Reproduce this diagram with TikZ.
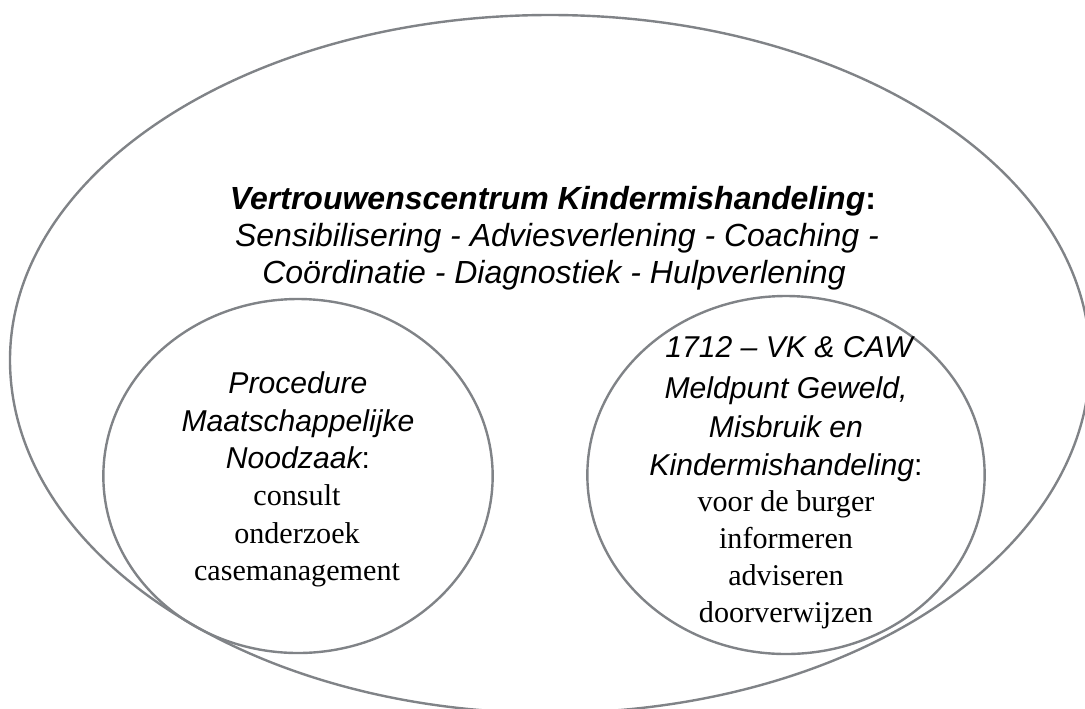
\documentclass[tikz,border=0pt]{standalone}
\usepackage{fontspec}
\setmainfont{Liberation Serif}
\setsansfont{Liberation Sans}
\usetikzlibrary{shapes.geometric}
\definecolor{ringgray}{RGB}{128,131,135}
\begin{document}
\begin{tikzpicture}[x=0.75pt,y=-0.75pt,
  ring/.style={draw=ringgray,line width=1.8pt},
  subring/.style={ring,ellipse,inner sep=0pt},
  txt/.style={inner sep=0pt,anchor=base},
  headtxt/.style={txt,font=\fontsize{24}{28}\selectfont\sffamily},
  labtxt/.style={txt,font=\fontsize{22.6}{27}\selectfont\sffamily\itshape},
  listtxt/.style={txt,font=\fontsize{22.6}{27}\selectfont\rmfamily}]
\useasboundingbox (0,0) rectangle (1085,708);

% outer ring
\draw[ring] (10,360) arc[start angle=180,end angle=0,x radius=405pt,y radius=258.75pt]
  arc[start angle=0,end angle=-180,x radius=405pt,y radius=264.75pt];

% inner rings
\node[subring,minimum width=292pt,minimum height=265.5pt] (procring) at (298,476) {};
\node[subring,minimum width=298pt,minimum height=268.5pt] (meldring) at (786,475) {};

% main text
\node[headtxt] (h1) at (553,209) {\textbf{\textit{Vertrouwenscentrum Kindermishandeling}:}};
\node[headtxt] (h2) at (557,246) {\textit{Sensibilisering - Adviesverlening - Coaching -}};
\node[headtxt] (h3) at (554,283) {\textit{Coördinatie - Diagnostiek - Hulpverlening}};

% left ring text
\node[labtxt] (p1) at (298,393) {Procedure};
\node[labtxt] (p2) at (298,431) {Maatschappelijke};
\node[labtxt] (p3) at (298,468) {Noodzaak\upshape:};
\node[listtxt] (p4) at (297,505) {consult};
\node[listtxt] (p5) at (297,543) {onderzoek};
\node[listtxt] (p6) at (297,580) {casemanagement};

% right ring text
\node[labtxt] (m1) at (789,357) {1712 – VK \& CAW};
\node[labtxt] (m2) at (786,398) {Meldpunt Geweld,};
\node[labtxt] (m3) at (786,437) {Misbruik en};
\node[labtxt] (m4) at (786,475) {Kindermishandeling\upshape:};
\node[listtxt] (m5) at (786,511) {voor de burger};
\node[listtxt] (m6) at (786,548) {informeren};
\node[listtxt] (m7) at (786,585) {adviseren};
\node[listtxt] (m8) at (786,622) {doorverwijzen};
\end{tikzpicture}
\end{document}
